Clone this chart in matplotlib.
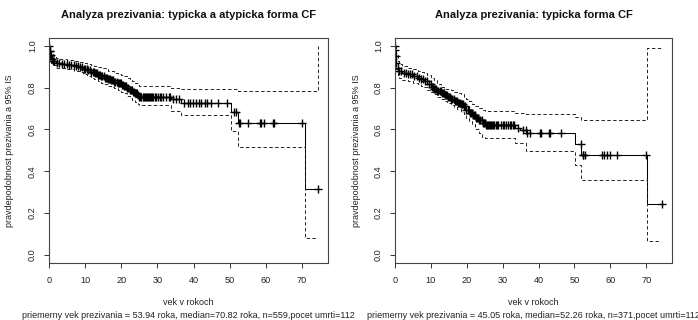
import numpy as np
import matplotlib
matplotlib.use("Agg")
import matplotlib.pyplot as plt

plt.rcParams["font.family"] = ["Liberation Sans", "DejaVu Sans"]

# --- left panel: typicka a atypicka forma CF ---
left_title = "Analyza prezivania: typicka a atypicka forma CF"
left_sub = "priemerny vek prezivania = 53.94 roka, median=70.82 roka, n=559,pocet umrti=112"
left_t = [0, 0.1, 0.3, 0.6, 1.0, 1.8, 3.0, 5.0, 7.0, 8.5, 9.5, 10.6, 11.5, 12.5, 13.5,
          14.5, 15.3, 16.3, 17.2, 18.0, 19.0, 20.0, 20.8, 21.5, 22.3, 23.0, 23.8, 24.5,
          25.0, 33.8, 36.6, 50.4, 52.2, 70.8, 74.4]
left_s = [1.0, 0.975, 0.955, 0.94, 0.93, 0.92, 0.915, 0.91, 0.905, 0.898, 0.89, 0.885,
          0.877, 0.869, 0.862, 0.855, 0.849, 0.842, 0.835, 0.83, 0.822, 0.815, 0.81, 0.80,
          0.79, 0.782, 0.774, 0.765, 0.758, 0.745, 0.726, 0.686, 0.633, 0.316, 0.316]
left_up_t = [0, 0.1, 0.3, 0.6, 1.0, 1.8, 3.0, 5.0, 7.0, 8.5, 9.5, 10.6, 11.5, 12.5, 13.5,
             14.5, 16.3, 18.0, 19.0, 20.0, 20.8, 21.5, 22.3, 23.0, 23.8, 24.5, 25.0,
             33.8, 36.6, 52.2, 74.4]
left_up = [1.0, 0.99, 0.975, 0.962, 0.953, 0.943, 0.937, 0.933, 0.928, 0.923, 0.918,
           0.915, 0.91, 0.905, 0.899, 0.893, 0.882, 0.872, 0.866, 0.86, 0.855, 0.848,
           0.84, 0.832, 0.823, 0.815, 0.808, 0.800, 0.796, 0.783, 1.0]
left_lo_t = [0, 0.1, 0.3, 0.6, 1.0, 1.8, 3.0, 5.0, 7.0, 8.5, 9.5, 10.6, 11.5, 12.5, 13.5,
             14.5, 15.3, 16.3, 17.2, 18.0, 19.0, 20.0, 20.8, 21.5, 22.3, 23.0, 23.8, 24.5,
             25.0, 33.8, 36.6, 50.4, 52.2, 70.8, 74.4]
left_lo = [1.0, 0.96, 0.935, 0.918, 0.907, 0.897, 0.893, 0.888, 0.882, 0.874, 0.865,
           0.857, 0.848, 0.84, 0.832, 0.824, 0.818, 0.81, 0.803, 0.797, 0.788, 0.78,
           0.773, 0.762, 0.752, 0.743, 0.734, 0.724, 0.716, 0.690, 0.670, 0.593, 0.516,
           0.082, 0.082]
left_cens = [0.05, 0.15, 0.2, 0.4, 0.5, 0.8, 1.1, 1.5, 2.1, 2.8, 3.5, 4.2, 4.9, 5.5, 6.2,
             6.8, 7.4, 8.0, 8.6, 9.1, 9.6, 10.1, 10.5, 10.9, 11.3, 11.7, 12.1, 12.4,
             12.7, 13.0, 13.3, 13.6, 13.9, 14.2, 14.5, 14.8, 15.1, 15.4, 15.7, 16.0,
             16.3, 16.6, 16.9, 17.2, 17.5, 17.8, 18.1, 18.4, 18.7, 19.0, 19.3, 19.6,
             19.9, 20.2, 20.5, 20.8, 21.1, 21.4, 21.7, 22.0, 22.3, 22.6, 22.9, 23.2,
             23.5, 23.8, 24.1, 24.4, 24.7, 25.0, 25.3, 25.6, 25.9, 26.2, 26.5, 26.8,
             27.1, 27.4, 27.7, 28.0, 28.3, 28.6, 28.9, 29.2, 29.5, 30.1, 30.6, 31.0,
             31.5, 32.4, 33.1, 33.6, 34.3, 35.2, 35.9, 37.5, 38.4, 38.9, 39.8, 40.7,
             41.4, 42.1, 43.3, 43.7, 44.9, 46.8, 49.4, 51.2, 51.7, 52.5, 52.9, 55.0,
             58.4, 58.8, 59.4, 61.9, 62.3, 70.1, 74.4]

# --- right panel: typicka forma CF ---
right_title = "Analyza prezivania: typicka forma CF"
right_sub = "priemerny vek prezivania = 45.05 roka, median=52.26 roka, n=371,pocet umrti=112"
right_t = [0, 0.05, 0.2, 0.4, 0.7, 1.0, 2.0, 3.5, 5.0, 6.3, 7.2, 8.1, 9.0, 10.0, 10.9,
           11.8, 12.8, 13.7, 14.6, 15.5, 16.4, 17.3, 18.3, 19.2, 19.9, 20.6, 21.5, 22.4,
           23.3, 24.3, 25.2, 33.4, 34.8, 36.6, 50.1, 51.8, 70.3, 74.4]
right_s = [1.0, 0.98, 0.95, 0.92, 0.895, 0.878, 0.87, 0.864, 0.857, 0.848, 0.84, 0.832,
           0.82, 0.805, 0.795, 0.785, 0.775, 0.765, 0.757, 0.748, 0.738, 0.728, 0.72,
           0.712, 0.695, 0.68, 0.668, 0.656, 0.644, 0.632, 0.622, 0.608, 0.597, 0.581,
           0.530, 0.480, 0.245, 0.245]
right_up_t = [0, 0.05, 0.2, 0.4, 0.7, 1.0, 2.0, 3.5, 5.0, 6.3, 7.2, 8.1, 9.0, 10.0, 10.9,
              11.8, 12.8, 13.7, 14.6, 15.5, 16.4, 17.3, 18.3, 19.2, 19.9, 20.6, 21.5,
              22.4, 23.3, 24.3, 25.2, 33.4, 36.6, 50.1, 51.8, 70.3, 74.0]
right_up = [1.0, 1.0, 0.98, 0.955, 0.93, 0.912, 0.905, 0.896, 0.888, 0.88, 0.875, 0.87,
            0.86, 0.848, 0.835, 0.82, 0.805, 0.795, 0.792, 0.788, 0.782, 0.776, 0.768,
            0.758, 0.748, 0.735, 0.722, 0.712, 0.703, 0.695, 0.690, 0.680, 0.675,
            0.662, 0.645, 0.99, 0.99]
right_lo_t = [0, 0.05, 0.2, 0.4, 0.7, 1.0, 2.0, 3.5, 5.0, 6.3, 7.2, 8.1, 9.0, 10.0, 10.9,
              11.8, 12.8, 13.7, 14.6, 15.5, 16.4, 17.3, 18.3, 19.2, 19.9, 20.6, 21.5,
              22.4, 23.3, 24.3, 25.2, 33.4, 36.6, 50.1, 51.8, 70.3, 74.0]
right_lo = [1.0, 0.955, 0.925, 0.89, 0.862, 0.845, 0.838, 0.832, 0.824, 0.816, 0.81,
            0.803, 0.79, 0.778, 0.768, 0.757, 0.746, 0.736, 0.726, 0.716, 0.706, 0.696,
            0.685, 0.672, 0.656, 0.643, 0.625, 0.603, 0.585, 0.565, 0.560, 0.536,
            0.499, 0.432, 0.360, 0.064, 0.064]
right_cens = [0.03, 0.1, 0.2, 0.4, 0.7, 1.2, 1.8, 2.4, 3.0, 3.6, 4.2, 4.8, 5.4, 6.0, 6.6,
              7.2, 7.8, 8.4, 8.9, 9.4, 9.9, 10.3, 10.6, 10.9, 11.2, 11.5, 11.8, 12.1,
              12.4, 12.7, 13.0, 13.3, 13.6, 13.9, 14.2, 14.5, 14.8, 15.1, 15.4, 15.7,
              16.0, 16.3, 16.6, 16.9, 17.2, 17.5, 17.8, 18.1, 18.4, 18.7, 19.0, 19.3,
              19.6, 19.9, 20.2, 20.5, 20.8, 21.1, 21.4, 21.7, 22.0, 22.3, 22.6, 22.9,
              23.2, 23.5, 23.8, 24.1, 24.4, 24.7, 25.0, 25.3, 25.6, 25.9, 26.2, 26.5,
              26.8, 27.1, 27.4, 27.7, 28.0, 28.4, 28.8, 29.4, 30.0, 30.5, 31.0, 31.4,
              31.9, 32.4, 32.8, 33.2, 34.2, 35.6, 36.4, 36.9, 37.5, 40.3, 40.8, 42.9,
              43.2, 46.3, 51.7, 52.3, 52.5, 52.8, 57.8, 58.3, 59.0, 59.9, 61.8, 69.8, 74.4]

xticks = [0, 10, 20, 30, 40, 50, 60, 70]
yticks = [0.0, 0.2, 0.4, 0.6, 0.8, 1.0]
ylab = "pravdepodobnost prezivania a 95% IS"
xlab = "vek v rokoch"

fig = plt.figure(figsize=(6.98, 3.2), dpi=100)
ax1 = fig.add_axes([49 / 698, 1 - 263 / 320, 279.3 / 698, 225.3 / 320])
ax2 = fig.add_axes([395 / 698, 1 - 263 / 320, 277.5 / 698, 225.3 / 320])

panels = [
    (ax1, left_title, left_sub, left_t, left_s, left_up_t, left_up, left_lo_t, left_lo, left_cens),
    (ax2, right_title, right_sub, right_t, right_s, right_up_t, right_up, right_lo_t, right_lo, right_cens),
]

for ax, title, sub, t, s, ut, up, lt, lo, cens in panels:
    t = np.array(t)
    s = np.array(s)
    ax.step(t, s, where="post", color="black", lw=0.75)
    ax.step(ut, up, where="post", color="#222222", lw=0.7, dashes=(3.5, 2.5))
    ax.step(lt, lo, where="post", color="#222222", lw=0.7, dashes=(3.5, 2.5))
    # censoring marks sit on the curve
    cens = np.array(cens)
    idx = np.searchsorted(t, cens, side="right") - 1
    ax.plot(cens, s[idx], ls="none", marker="+", color="black", ms=6, mew=1.0)

    ax.set_xlim(0, 77.3)
    ax.set_ylim(-0.04, 1.04)
    ax.set_xticks(xticks)
    ax.set_yticks(yticks)
    ax.set_yticklabels(["%.1f" % v for v in yticks], rotation=90, va="center")
    ax.tick_params(direction="out", length=3.6, width=0.7, colors="#333333",
                   labelsize=6.6, labelcolor="#222222")
    ax.tick_params(axis="x", pad=5.5)
    ax.tick_params(axis="y", pad=5)
    for sp in ax.spines.values():
        sp.set_color("#444444")
        sp.set_linewidth(0.8)

    ax.text(0.5, 1.1, title, transform=ax.transAxes, ha="center", va="center",
            fontsize=8, fontweight="bold", color="#111111")
    ax.text(0.5, -0.1775, xlab, transform=ax.transAxes, ha="center", va="center",
            fontsize=6.5, color="#222222")
    ax.text(0.5, -0.231, sub, transform=ax.transAxes, ha="center", va="center",
            fontsize=6.5, color="#222222")
    ax.text(-0.14, 0.5, ylab, transform=ax.transAxes, ha="center", va="center",
            rotation=90, fontsize=6.5, color="#222222")

fig.savefig("out.png", dpi=100)
